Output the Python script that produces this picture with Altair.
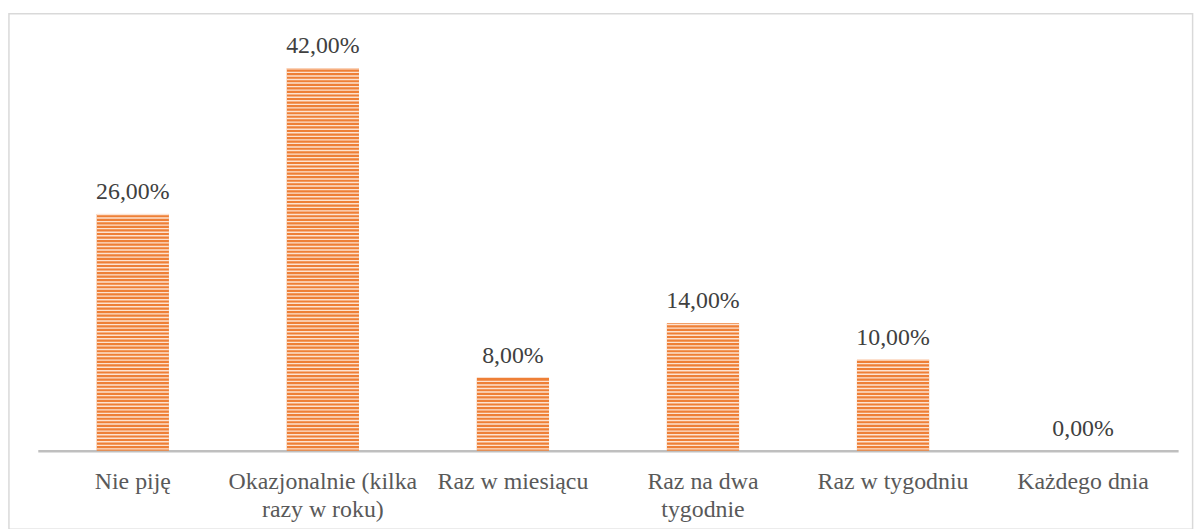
import altair as alt
import pandas as pd

categories = [
    "Nie piję",
    "Okazjonalnie (kilka razy w roku)",
    "Raz w miesiącu",
    "Raz na dwa tygodnie",
    "Raz w tygodniu",
    "Każdego dnia",
]
values = [0.26, 0.42, 0.08, 0.14, 0.10, 0.00]

df = pd.DataFrame({"kategoria": categories, "wartosc": values})

FONT = "Liberation Serif"
BAR_DARK = "#EE7F36"
BAR_LIGHT = "#FDE2D0"

x_enc = alt.X(
    "kategoria:N",
    sort=categories,
    scale=alt.Scale(paddingInner=0.62, paddingOuter=0.31, round=False),
    axis=alt.Axis(
        title=None,
        ticks=False,
        domainColor="#BFBFBF",
        domainWidth=2.5,
        labelAngle=0,
        labelFont=FONT,
        labelFontSize=24,
        labelColor="#595959",
        labelPadding=19,
        labelLimit=400,
        labelLineHeight=28,
        labelExpr=(
            "datum.label == 'Okazjonalnie (kilka razy w roku)' ? ['Okazjonalnie (kilka', 'razy w roku)'] : "
            "datum.label == 'Raz na dwa tygodnie' ? ['Raz na dwa', 'tygodnie'] : datum.label"
        ),
    ),
)
y_scale = alt.Scale(domain=[0, 0.459], nice=False, zero=True)

base = alt.Chart(df)

frame = alt.Chart(pd.DataFrame({"f": [0]})).mark_rect(
    fillOpacity=0, stroke="#D9D9D9", strokeWidth=1.5
).encode(
    x=alt.value(-29.05), x2=alt.value(1163), y=alt.value(-19), y2=alt.value(500)
)

bars = base.mark_bar(color=BAR_DARK).encode(
    x=x_enc,
    y=alt.Y("wartosc:Q", scale=y_scale, axis=None),
)

stripes = (
    base.transform_calculate(pasek="sequence(0.002, datum.wartosc, 0.0039)")
    .transform_flatten(["pasek"])
    .mark_tick(color=BAR_LIGHT, thickness=1.4, size=72.7, opacity=1)
    .encode(
        x=alt.X("kategoria:N", sort=categories),
        y=alt.Y("pasek:Q", scale=y_scale, axis=None),
    )
)

labels = (
    base.transform_calculate(
        etykieta="replace(format(datum.wartosc, '.2%'), '.', ',')"
    )
    .mark_text(font=FONT, fontSize=24, color="#404040", baseline="alphabetic", dy=-15)
    .encode(
        x=alt.X("kategoria:N", sort=categories),
        y=alt.Y("wartosc:Q", scale=y_scale, axis=None),
        text="etykieta:N",
    )
)

chart = (
    alt.layer(frame, bars, stripes, labels)
    .properties(
        width=1148.4,
        height=421,
        padding={"left": 0, "top": 3, "right": 0, "bottom": 0},
        background="white",
    )
    .configure_view(stroke=None)
)

chart.save("out.html", embed_options={"renderer": "svg", "actions": False})
